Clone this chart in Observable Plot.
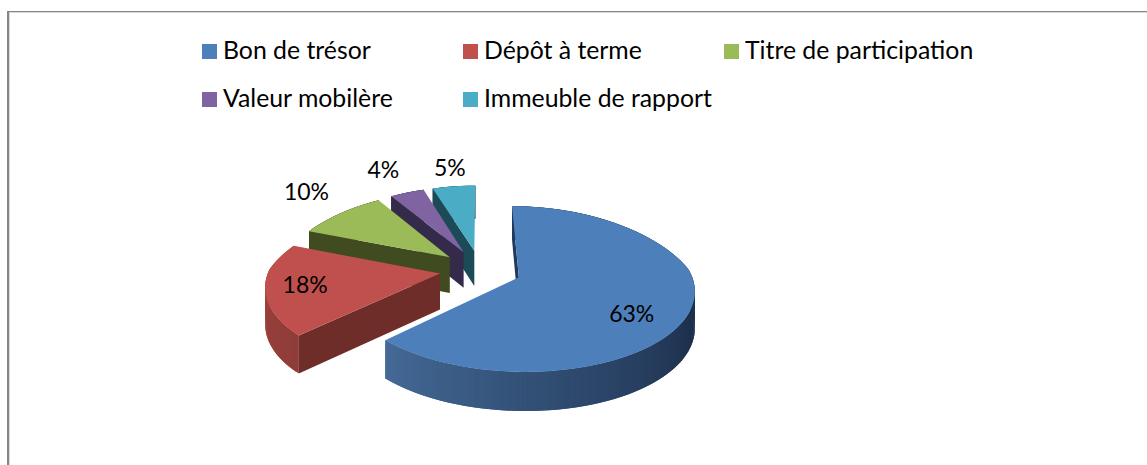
<!DOCTYPE html>
<html lang="fr">
<head>
<meta charset="utf-8">
<script src="https://cdn.jsdelivr.net/npm/d3@7"></script>
<script src="https://cdn.jsdelivr.net/npm/@observablehq/plot@0.6"></script>
<style>
  html, body { margin: 0; padding: 0; background: #fff; width: 1147px; height: 465px; overflow: hidden; }
  #frame { position: absolute; left: 7px; top: 11px; width: 1200px; height: 500px; box-sizing: border-box;
           border-top: 1px solid #868686; border-left: 2px solid #868686; box-shadow: inset 1px 1px 0 #d9d9d9; }
  #chart { position: absolute; left: 0; top: 0; }
  #legend { position: absolute; left: 0; top: 0; font-family: Lato, sans-serif; font-size: 24.8px; color: #000; }
  .item { position: absolute; height: 28px; line-height: 28px; white-space: nowrap; padding-left: 21px; }
  .item i { position: absolute; left: 0; top: 8px; width: 15px; height: 15px; }
</style>
</head>
<body>
<div id="frame"></div>
<div id="chart"></div>
<div id="legend"></div>
<script>
const categories = ["Bon de trésor", "Dépôt à terme", "Titre de participation", "Valeur mobilère", "Immeuble de rapport"];
const shares = [62.7, 18.2, 10, 4, 5.1];
const topColors = ["#4d7fbb", "#c0504d", "#9bbb59", "#8064a2", "#4bacc6"];
const startWallColors = ["#1f3a5c", "#6f2d2a", "#404c20", "#342a4a", "#1d4a57"];
// outer wall shading from the slice's first to its last angle
const outerWallColors = [
  ["#1f3a58", "#1f3855", "#1d304c", "#2f4b70", "#446a96"],
  ["#8f3c38", "#a5443f"],
  ["#404c20", "#404c20"],
  ["#342a4a", "#342a4a"],
  ["#1d4a57", "#1d4a57"]
];
// label placement relative to each slice: turn from its bisector (degrees) and radius
const labelTurn = [11.9, 1.2, 2.8, -1.1, 0.5];
const labelRadius = [0.73, 0.776, 1.463, 1.464, 1.344];
// legend layout
const legendCols = [202, 463, 724];
const legendRows = [36, 84];

// 3D pie model
const W = 1147, H = 465;
const originX = 480, originY = 269, radiusX = 171, radiusY = 79;
const perspective = 0.14, perspectiveBackX = 0.22, explodeX = 0.24, explodeY = 0.25, depth = 36 / radiusY;
const rad = Math.PI / 180;

const slices = d3.pie().sort(null)(shares);

function project(U, V, down) {
  const p = 1 / (1 - perspective * V);
  const px = V < 0 ? 1 / (1 - perspectiveBackX * V) : p;
  return { x: U * px, y: V * p + down * depth * Math.sqrt(p) };
}

const rows = [];
const polygon = (id, color, pts) => pts.forEach(q => rows.push({ id, color, x: q.x, y: q.y }));

const textRows = [];
// paint from back to front
[4, 3, 2, 1, 0].forEach(i => {
  const s = slices[i];
  const mid = (s.startAngle + s.endAngle) / 2;
  const ax = explodeX * Math.sin(mid), ay = -explodeY * Math.cos(mid);
  const point = (a, r, down) => project(ax + r * Math.sin(a), ay - r * Math.cos(a), down);
  const n = Math.ceil((s.endAngle - s.startAngle) / (1.5 * rad));
  const step = (s.endAngle - s.startAngle) / n;
  const ramp = d3.scaleLinear()
    .domain(outerWallColors[i].map((_, j, arr) => j / (arr.length - 1)))
    .range(outerWallColors[i]);
  for (let j = 0; j < n; j++) {
    const a0 = s.startAngle + j * step, a1 = Math.min(a0 + 2 * step, s.endAngle);
    polygon(`o${i}-${j}`, d3.rgb(ramp((j + 0.5) / n)).formatHex(), [
      point(a0, 1, 0), point(a1, 1, 0), point(a1, 1, 1), point(a0, 1, 1)
    ]);
  }
  polygon(`w${i}`, startWallColors[i], [
    point(s.startAngle, 0, 0), point(s.startAngle, 1, 0), point(s.startAngle, 1, 1), point(s.startAngle, 0, 1)
  ]);
  const face = [point(0, 0, 0)];
  for (let j = 0; j <= n; j++) face.push(point(s.startAngle + j * step, 1, 0));
  polygon(`t${i}`, topColors[i], face);

  const la = mid + labelTurn[i] * rad;
  const lp = point(la, labelRadius[i], 0);
  textRows.push({ label: `${Math.round(shares[i])}%`, x: lp.x, y: lp.y });
});

const chart = Plot.plot({
  width: W,
  height: H,
  margin: 0,
  style: { background: "transparent" },
  x: { domain: [-originX / radiusX, (W - originX) / radiusX], range: [0, W], axis: null },
  y: { domain: [-originY / radiusY, (H - originY) / radiusY], range: [0, H], axis: null },
  color: { type: "identity" },
  marks: [
    Plot.line(rows, { x: "x", y: "y", z: "id", fill: "color", stroke: "none", curve: "linear-closed" }),
    Plot.text(textRows, { x: "x", y: "y", dy: 1, text: "label", fontFamily: "Lato, sans-serif", fontSize: 23, fill: "#000" })
  ]
});
document.getElementById("chart").appendChild(chart);

const legend = document.getElementById("legend");
categories.forEach((name, i) => {
  const el = document.createElement("div");
  el.className = "item";
  el.style.left = legendCols[i % 3] + "px";
  el.style.top = legendRows[Math.floor(i / 3)] + "px";
  const sw = document.createElement("i");
  sw.style.background = topColors[i];
  el.appendChild(sw);
  el.appendChild(document.createTextNode(name));
  legend.appendChild(el);
});
</script>
</body>
</html>
